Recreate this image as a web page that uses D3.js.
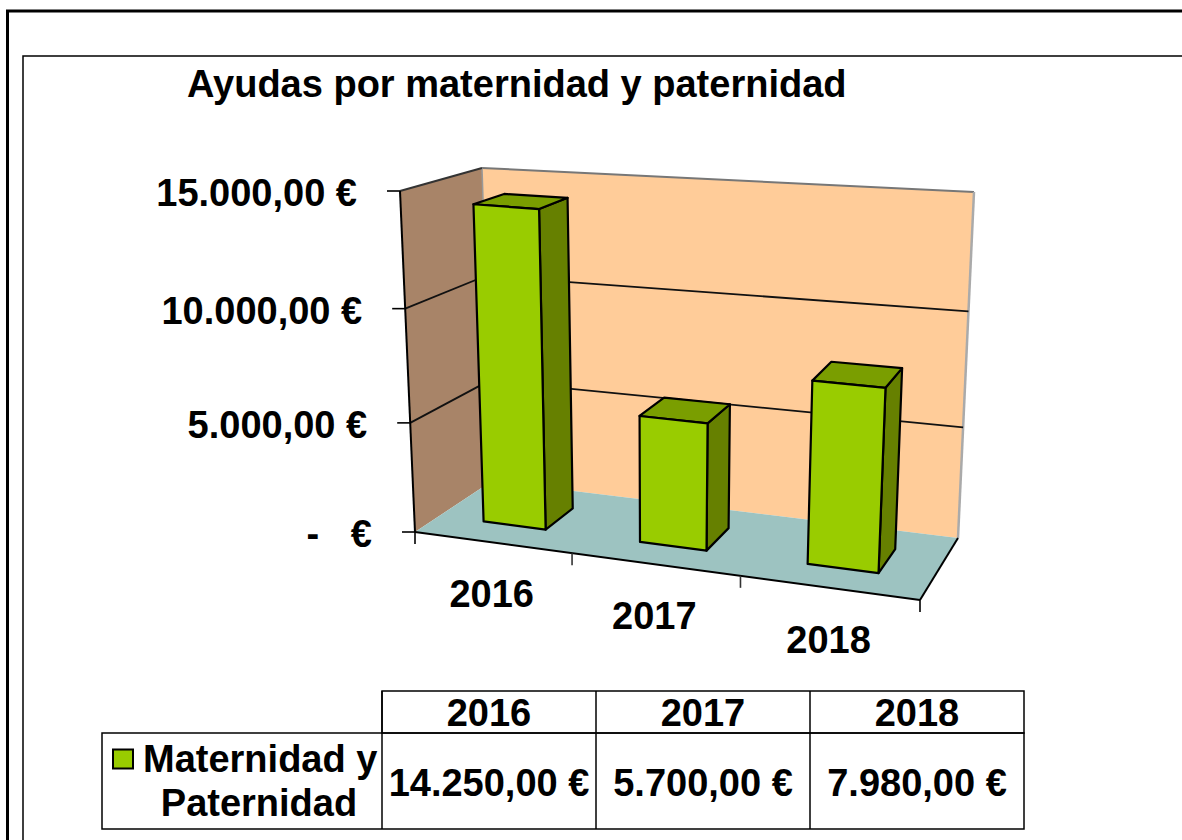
<!DOCTYPE html>
<html>
<head>
<meta charset="utf-8">
<script src="https://cdn.jsdelivr.net/npm/d3@7"></script>
<style>
html,body{margin:0;padding:0;background:#fff;overflow:hidden}
svg{display:block}
text{font-family:"Liberation Sans",Arial,sans-serif;font-weight:700;fill:#000}
</style>
</head>
<body>
<svg id="chart" width="1182" height="840"></svg>
<script>
/* data */
var title='Ayudas por maternidad y paternidad';
var categories=['2016','2017','2018'];
var seriesName=['Maternidad y','Paternidad'];
var values=[14250,5700,7980];
var yTicks=[0,5000,10000,15000];

var svg=d3.select('#chart');
var W=1182, H=840;
var FS=38;

var es=d3.formatLocale({decimal:',',thousands:'.',grouping:[3],currency:['','€']});
var fmt=es.format(',.2f');
function euro(v){return v===0?'-   €':fmt(v)+' €'}

/* corners of the 3d box: f/b = front/back, l/r = left/right, 0/1 = floor/top */
var box={
  fl0:[415,532], fr0:[920,600], bl0:[492,481], br0:[958,538],
  fl1:[400,191], fr1:[937,234], bl1:[482,168], br1:[974,192]
};

/* the picture has a little perspective, so both scales are slightly bent */
var uWarp=d3.scaleLinear().domain([0,1/6,1/2,5/6,1]).range([0,.15,.472,.817,1]);
var vScale=d3.scaleLinear().domain(yTicks).range([0,.32,.655,1]);
var xBand=d3.scaleBand().domain(categories).range([0,1]).paddingInner(.595).paddingOuter(.2975);
var depth=d3.scaleLinear().domain([0,1]).range([.32,.715]);

function mix(a,b,t){return [a[0]+(b[0]-a[0])*t,a[1]+(b[1]-a[1])*t]}
function P(u,val,w){
  var v=vScale(val);
  var f0=mix(box.fl0,box.fr0,u), b0=mix(box.bl0,box.br0,u);
  var f1=mix(box.fl1,box.fr1,u), b1=mix(box.bl1,box.br1,u);
  return mix(mix(f0,b0,w),mix(f1,b1,w),v);
}
var line=d3.line();
function poly(pts,fill,stroke,sw,g){
  return (g||svg).append('path').attr('d',line(pts)+'Z').attr('fill',fill)
    .attr('stroke',stroke||'none').attr('stroke-width',sw||0).attr('stroke-linejoin','round');
}
function seg(a,b,col,sw){
  return svg.append('line').attr('x1',a[0]).attr('y1',a[1]).attr('x2',b[0]).attr('y2',b[1])
    .attr('stroke',col).attr('stroke-width',sw);
}

/* page frames */
svg.append('rect').attr('x',7.5).attr('y',11).attr('width',W+20).attr('height',H+20)
  .attr('fill','#fff').attr('stroke','#000').attr('stroke-width',3);
svg.append('rect').attr('x',23).attr('y',56).attr('width',W+20).attr('height',H+20)
  .attr('fill','#fff').attr('stroke','#000').attr('stroke-width',1.5);

/* title */
svg.append('text').attr('x',187).attr('y',97).attr('font-size',FS).text(title);

/* walls and floor */
var yMax=yTicks[yTicks.length-1];
poly([P(0,0,1),P(1,0,1),P(1,yMax,1),P(0,yMax,1)],'#ffcc99');
poly([P(0,0,0),P(0,0,1),P(0,yMax,1),P(0,yMax,0)],'#a88468');
poly([P(0,0,0),P(1,0,0),P(1,0,1),P(0,0,1)],'#9dc3c1');

/* wall edges */
seg(P(0,yMax,1),P(1,yMax,1),'#777',2);
seg(P(1,yMax,1),P(1,0,1),'#aaa',2.5);
seg(P(0,yMax,1),P(0,0,1),'#999',1.5);
seg(P(0,yMax,0),P(0,yMax,1),'#333',2);

/* gridlines */
yTicks.slice(1,-1).forEach(function(t){
  seg(P(0,t,0),P(0,t,1),'#111',1.8);
  seg(P(0,t,1),P(1,t,1),'#111',1.8);
});

/* front axes */
seg(P(0,0,0),P(0,yMax,0),'#000',2);
seg(P(0,0,0),P(1,0,0),'#000',2);
seg(P(1,0,0),P(1,0,1),'#000',2);

yTicks.forEach(function(t){
  var p=P(0,t,0);
  seg([p[0]-13,p[1]],p,'#000',1.6);
  svg.append('text').attr('x',p[0]-43).attr('y',p[1]+15).attr('font-size',FS)
    .attr('text-anchor','end').style('white-space','pre').text(euro(t));
});
d3.range(0,4).forEach(function(i){
  var p=P(uWarp(i/3),0,0);
  seg(p,[p[0],p[1]+12],i%3?'#333':'#000',1.6);
});

/* bars */
categories.forEach(function(c,i){
  var u0=uWarp(xBand(c)), u1=uWarp(xBand(c)+xBand.bandwidth());
  var w0=depth(0), w1=depth(1), v=values[i];
  var g=svg.append('g');
  poly([P(u1,0,w0),P(u1,0,w1),P(u1,v,w1),P(u1,v,w0)],'#668000','#000',2.2,g);
  poly([P(u0,v,w0),P(u1,v,w0),P(u1,v,w1),P(u0,v,w1)],'#7a9e00','#000',2.2,g);
  poly([P(u0,0,w0),P(u1,0,w0),P(u1,v,w0),P(u0,v,w0)],'#99cc00','#000',2.2,g);

  var m=P(uWarp(xBand(c)+xBand.bandwidth()/2),0,0);
  svg.append('text').attr('x',m[0]+1).attr('y',m[1]+65).attr('font-size',FS)
    .attr('text-anchor','middle').text(c);
});

/* data table */
var colX=d3.scaleBand().domain(categories).range([382,1024]);
var rowTop=691, rowMid=733, rowBot=829, tableL=102;
var tg=svg.append('g').attr('fill','none').attr('stroke','#000').attr('stroke-width',1.5);
tg.append('rect').attr('x',382).attr('y',rowTop).attr('width',642).attr('height',rowMid-rowTop);
tg.append('rect').attr('x',tableL).attr('y',rowMid).attr('width',1024-tableL).attr('height',rowBot-rowMid);
categories.forEach(function(c,i){
  var x=colX(c);
  if(i>0) tg.append('line').attr('x1',x).attr('x2',x).attr('y1',rowTop).attr('y2',rowBot);
  svg.append('text').attr('x',x+colX.bandwidth()/2).attr('y',726).attr('font-size',FS)
    .attr('text-anchor','middle').text(c);
  svg.append('text').attr('x',x+colX.bandwidth()/2).attr('y',796).attr('font-size',FS)
    .attr('text-anchor','middle').text(fmt(values[i])+' €');
});
tg.append('line').attr('x1',382).attr('x2',382).attr('y1',rowTop).attr('y2',rowBot);

/* legend key */
svg.append('rect').attr('x',113).attr('y',749.5).attr('width',20).attr('height',19)
  .attr('fill','#99cc00').attr('stroke','#000').attr('stroke-width',2);
svg.append('text').attr('x',143).attr('y',772).attr('font-size',FS).text(seriesName[0]);
svg.append('text').attr('x',259).attr('y',816).attr('font-size',FS).attr('text-anchor','middle').text(seriesName[1]);
</script>
</body>
</html>
